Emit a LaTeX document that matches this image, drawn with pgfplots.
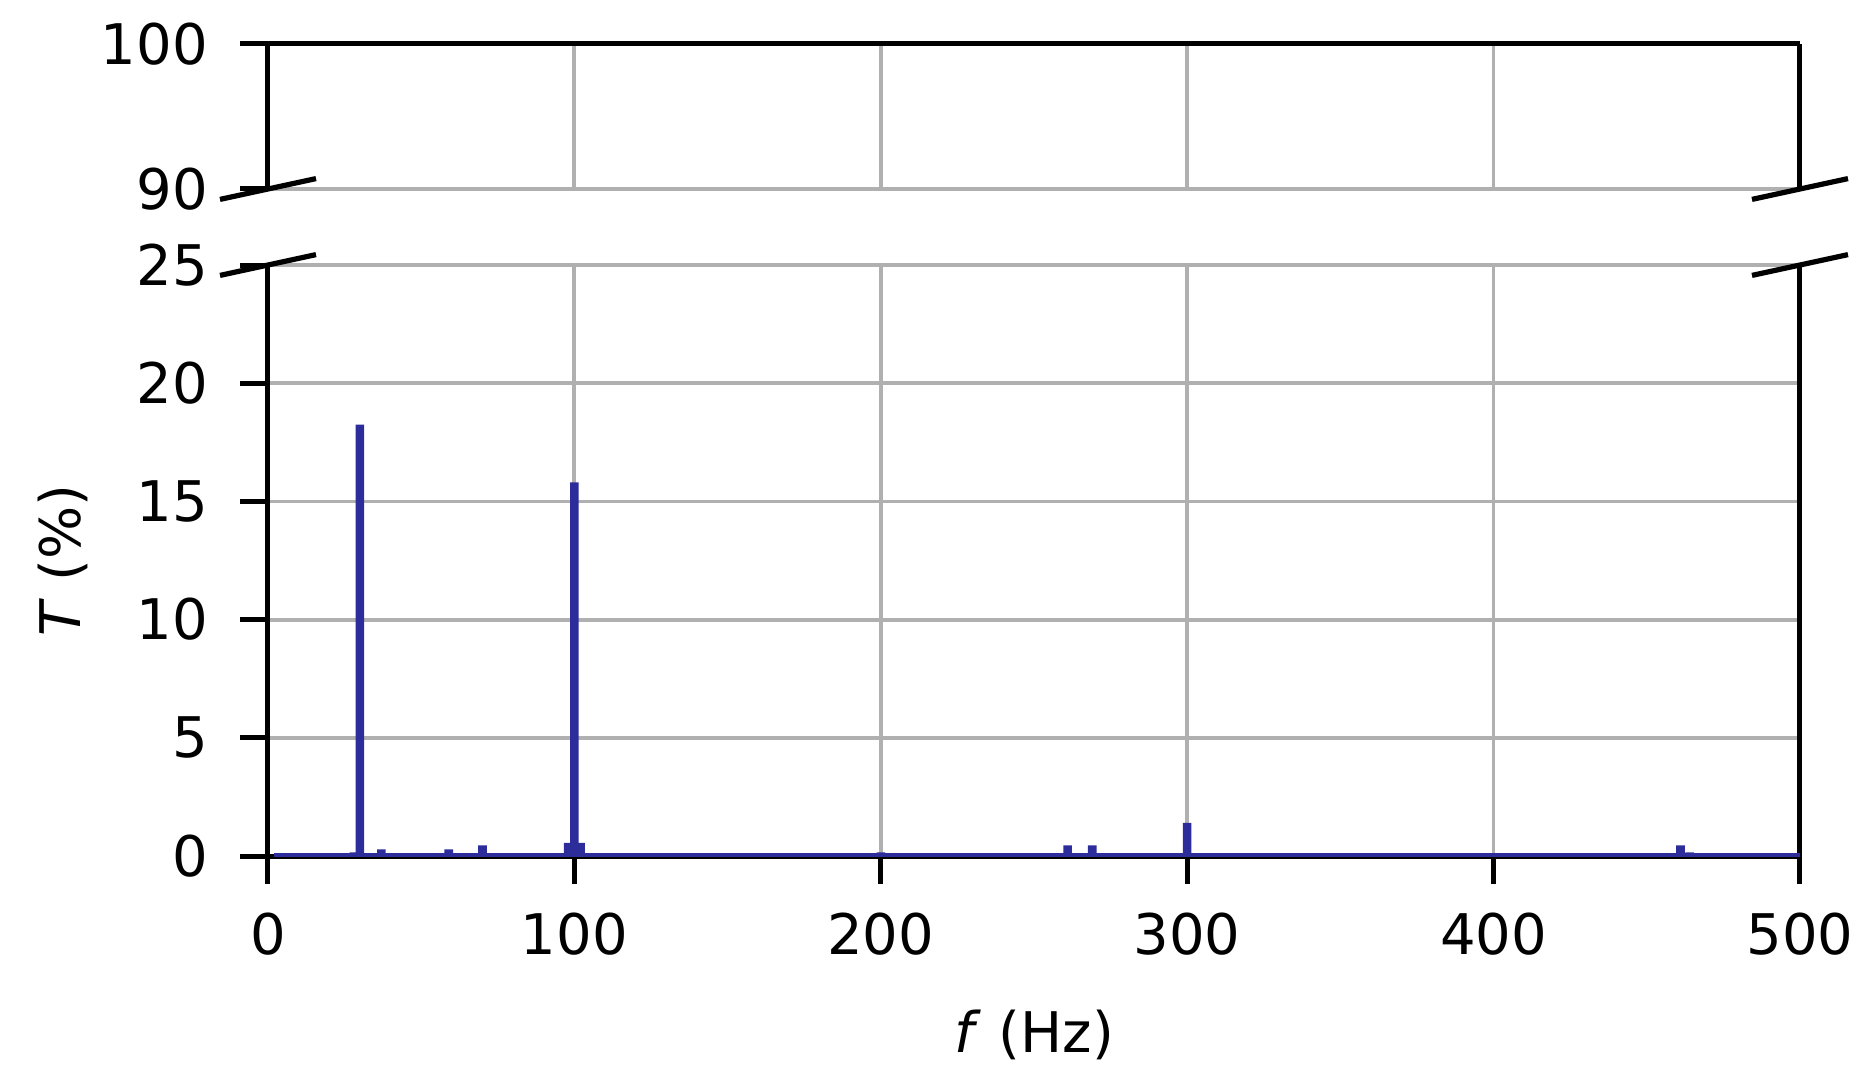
\documentclass[border=0pt]{standalone}
\usepackage{fontspec}
\setmainfont{DejaVu Sans}
\usepackage{pgfplots}
\pgfplotsset{compat=1.18}
\usepackage{pgfplotstable}

\definecolor{barblue}{RGB}{44,44,155}
\definecolor{gridgray}{RGB}{176,176,176}

% spectrum peaks: frequency (Hz), T (%)
\pgfplotstableread{
f T
28 0.15
30 18.25
32 0.12
37 0.28
59 0.28
67 0.08
70 0.45
96 0.10
98 0.55
100 15.8
102 0.55
104 0.12
107 0.08
129 0.10
156 0.10
186 0.10
200 0.15
231 0.10
261 0.45
269 0.45
291 0.10
300 1.40
329 0.10
399 0.10
431 0.10
461 0.45
464 0.15
490 0.10
494 0.10
}\spectrum

\pgfplotsset{
  brk/.style={
    scale only axis,
    width=383pt,
    xmin=0, xmax=500,
    xtick={0,100,...,500},
    axis line style={line width=1.25pt},
    tick style={line width=1.25pt, black},
    major tick length=7pt,
    tick align=outside,
    ytick pos=left,
    grid=major,
    major grid style={line width=0.95pt, gridgray},
    font=\fontsize{14}{17}\selectfont,
    /pgf/number format/assume math mode=true,
    yticklabel style={xshift=-4.5pt},
    xticklabel style={yshift=-3.6pt},
  }
}

\begin{document}
\begin{tikzpicture}
\path[use as bounding box] (0,0) rectangle (466.5pt,271pt);

% upper panel 90..100
\begin{axis}[brk, name=top,
    anchor=south west, at={(67pt,223.75pt)},
    height=36.25pt,
    ymin=90, ymax=100, ytick={90,100},
    axis x line*=top,
    xticklabels={},
    xtick style={draw=none},
]
\end{axis}

% lower panel 0..25
\begin{axis}[brk, name=bot,
    anchor=south west, at={(67pt,57pt)},
    height=147.75pt,
    ymin=0, ymax=25, ytick={0,5,...,25},
    axis x line*=bottom,
    xlabel={\textit{f} (Hz)},
    ylabel={\textit{T} (\%)},
    xlabel style={anchor=center, at={([yshift=-44.75pt]axis description cs:0.5,0)}},
    ylabel style={anchor=center, at={([xshift=-51.25pt]axis description cs:0,0.5)}},
]
\addplot[barblue, line width=1pt] coordinates {(2,0.06) (500,0.06)};
\addplot[ybar, bar width=2.8, bar shift=0pt, fill=barblue, draw=none] table[x=f, y=T] {\spectrum};
\end{axis}

% break marks
\foreach \p in {top.south west, top.south east, bot.north west, bot.north east}
  \draw[line width=1.3pt] ([xshift=-12pt, yshift=-2.6pt]\p) -- ([xshift=12pt, yshift=2.6pt]\p);
\end{tikzpicture}
\end{document}
